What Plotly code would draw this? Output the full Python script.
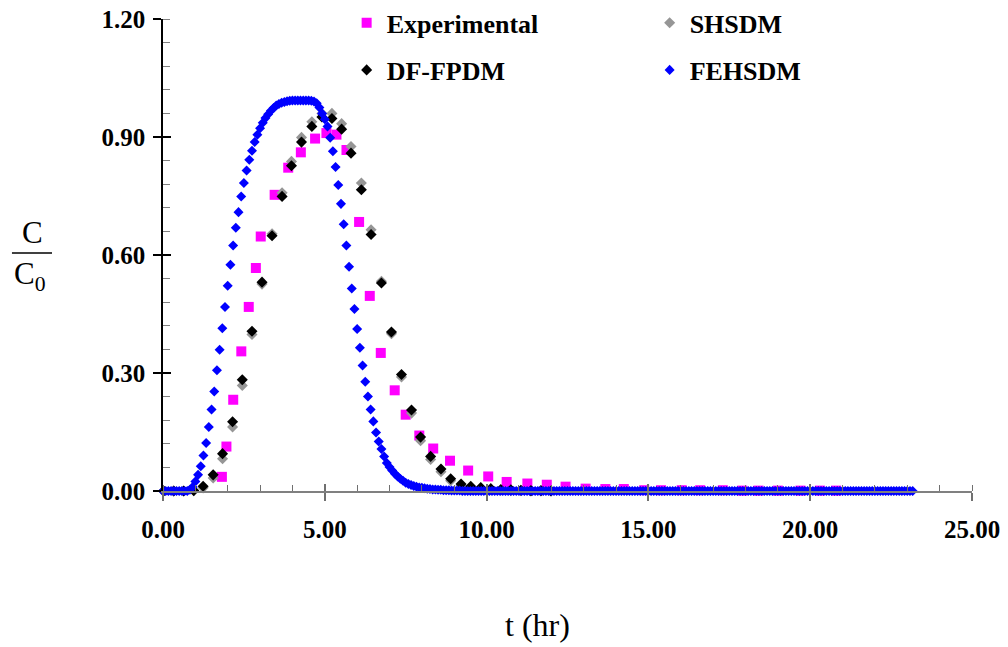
import plotly.graph_objects as go

# ---------------- data ----------------
exp_t = [1.82, 1.96, 2.17, 2.42, 2.65, 2.87, 3.02, 3.45, 3.87, 4.26, 4.70, 5.05, 5.36, 5.67,
         6.06, 6.39, 6.73, 7.16, 7.50, 7.92, 8.35, 8.87, 9.43, 10.05, 10.62, 11.26, 11.86,
         12.44, 13.06, 13.67, 14.24, 14.87, 15.39, 16.03, 16.60, 17.30, 17.90, 18.40, 19.00,
         19.70, 20.30, 20.80]
exp_c = [0.036, 0.113, 0.232, 0.355, 0.468, 0.567, 0.647, 0.753, 0.822, 0.861, 0.896, 0.910,
         0.906, 0.867, 0.684, 0.496, 0.351, 0.256, 0.194, 0.141, 0.108, 0.077, 0.052, 0.037,
         0.023, 0.019, 0.016, 0.011, 0.006, 0.005, 0.005, 0.002, 0.002, 0.002, 0.002, 0.002,
         0.001, 0.001, 0.001, 0.001, 0.001, 0.001]

model_t = [0.02, 0.33, 0.64, 0.95, 1.24, 1.55, 1.84, 2.15, 2.45, 2.75, 3.06, 3.37, 3.68, 3.97,
           4.28, 4.60, 4.91, 5.22, 5.52, 5.81, 6.13, 6.43, 6.75, 7.06, 7.37, 7.68, 7.96, 8.27,
           8.59, 8.89, 9.21, 9.51, 9.82, 10.13, 10.44, 10.75, 11.06, 11.37, 11.68, 11.99]
shsdm_c = [0, 0, 0, 0.001, 0.008, 0.033, 0.082, 0.163, 0.268, 0.398, 0.526, 0.654, 0.758, 0.838,
           0.899, 0.939, 0.960, 0.960, 0.934, 0.876, 0.783, 0.664, 0.533, 0.400, 0.290, 0.198,
           0.128, 0.080, 0.049, 0.026, 0.014, 0.008, 0.005, 0.003, 0.002, 0.001, 0.001, 0, 0, 0]
dffpdm_c = [0, 0, 0, 0.001, 0.012, 0.041, 0.095, 0.176, 0.283, 0.406, 0.531, 0.649, 0.749, 0.827,
            0.887, 0.927, 0.951, 0.947, 0.920, 0.859, 0.766, 0.652, 0.529, 0.404, 0.296, 0.206,
            0.137, 0.088, 0.056, 0.031, 0.018, 0.012, 0.009, 0.006, 0.004, 0.003, 0.002, 0.001,
            0.001, 0]

# FEHSDM sampled every 5 minutes from t = 0
FEHSDM_STEP_HR = 5 / 60
fehsdm_c = [
    0, 0, 0, 0, 0, 0, 0, 0, 0, 0,
    0.003, 0.010, 0.024, 0.041, 0.063, 0.090, 0.122, 0.163, 0.207, 0.253,
    0.307, 0.359, 0.414, 0.468, 0.522, 0.575, 0.624, 0.669, 0.709, 0.749,
    0.783, 0.815, 0.842, 0.865, 0.887, 0.906, 0.922, 0.936, 0.948, 0.958,
    0.967, 0.974, 0.980, 0.984, 0.987, 0.989, 0.991, 0.992, 0.993, 0.993,
    0.993, 0.993, 0.993, 0.993, 0.993, 0.992, 0.990, 0.986, 0.975, 0.960,
    0.945, 0.927, 0.898, 0.864, 0.824, 0.778, 0.730, 0.678, 0.624, 0.570,
    0.515, 0.463, 0.412, 0.364, 0.319, 0.278, 0.240, 0.207, 0.177, 0.149,
    0.126, 0.107, 0.088, 0.071, 0.061, 0.052, 0.044, 0.037, 0.031, 0.026,
    0.021, 0.018, 0.015, 0.013, 0.011, 0.009, 0.008, 0.007, 0.006, 0.005,
    0.004, 0.004, 0.003, 0.003, 0.002, 0.002, 0.002, 0.001, 0.001, 0.001, 0.001,
] + [0.0] * 168
fehsdm_t = [i * FEHSDM_STEP_HR for i in range(len(fehsdm_c))]

x_ticks = [0, 5, 10, 15, 20, 25]
y_ticks = [0.0, 0.3, 0.6, 0.9, 1.2]

# ---------------- figure ----------------
SERIF = "Liberation Serif, Times New Roman, serif"
fig = go.Figure()

fig.add_trace(go.Scatter(x=exp_t, y=exp_c, mode="markers", name="Experimental",
                         marker=dict(symbol="square", size=10, color="#FF00FF", line=dict(width=0)),
                         cliponaxis=False, legend="legend"))
fig.add_trace(go.Scatter(x=model_t, y=shsdm_c, mode="markers", name="SHSDM",
                         marker=dict(symbol="diamond", size=8.5, color="#969696", line=dict(width=0)),
                         cliponaxis=False, legend="legend"))
fig.add_trace(go.Scatter(x=model_t, y=dffpdm_c, mode="markers", name="DF-FPDM",
                         marker=dict(symbol="diamond", size=8.5, color="#000000", line=dict(width=0)),
                         cliponaxis=False, legend="legend2"))
fig.add_trace(go.Scatter(x=fehsdm_t, y=fehsdm_c, mode="markers", name="FEHSDM",
                         marker=dict(symbol="diamond", size=7.7, color="#0000FF", line=dict(width=0)),
                         cliponaxis=False, legend="legend2"))
# empty trace to carry the overlay axes (inner half of the crossing major ticks)
fig.add_trace(go.Scatter(x=[], y=[], xaxis="x2", yaxis="y2", showlegend=False, hoverinfo="skip"))

tick_font = dict(family=SERIF, size=25, color="black", weight="bold")
legend_font = dict(family=SERIF, size=26, color="black", weight="bold")

# the page body adds an 8 px offset, so the figure is 1000x639 with margins shifted accordingly
fig.update_layout(
    width=1000, height=639,
    margin=dict(l=155, r=36, t=11, b=156, autoexpand=False),
    paper_bgcolor="white", plot_bgcolor="white",
    showlegend=True,
    xaxis=dict(range=[0, 25], tickvals=x_ticks, tickformat=".2f", ticks="outside", ticklen=8,
               tickwidth=1.5, tickcolor="#707070", showline=True, linecolor="#808080", linewidth=2,
               showgrid=False, zeroline=False, tickfont=tick_font, ticklabelstandoff=7,
               ticklabeloverflow="allow",
               minor=dict(dtick=1, tick0=0, ticks="inside", ticklen=6, tickwidth=1, tickcolor="#707070")),
    yaxis=dict(range=[0, 1.2], tickvals=y_ticks, tickformat=".2f", ticks="outside", ticklen=8,
               tickwidth=1.5, tickcolor="black", showline=True, linecolor="black", linewidth=1.5,
               showgrid=False, zeroline=False, tickfont=tick_font, ticklabelstandoff=3,
               ticklabeloverflow="allow",
               minor=dict(dtick=0.06, tick0=0, ticks="inside", ticklen=7, tickwidth=1, tickcolor="#808080")),
    xaxis2=dict(range=[0, 25], overlaying="x", anchor="y", side="bottom", tickvals=x_ticks,
                ticks="inside", ticklen=7, tickwidth=1.5, tickcolor="#707070", showticklabels=False,
                showline=False, showgrid=False, zeroline=False),
    yaxis2=dict(range=[0, 1.2], overlaying="y", anchor="x", side="left", tickvals=y_ticks,
                ticks="inside", ticklen=8, tickwidth=1.5, tickcolor="black", showticklabels=False,
                showline=False, showgrid=False, zeroline=False),
    legend=dict(orientation="h", x=0.227, xanchor="left", y=0.992, yanchor="middle",
                entrywidth=258, bgcolor="rgba(0,0,0,0)", font=legend_font, itemclick=False),
    legend2=dict(orientation="h", x=0.227, xanchor="left", y=0.892, yanchor="middle",
                 entrywidth=258, bgcolor="rgba(0,0,0,0)", font=legend_font, itemclick=False),
)

# y-axis title as a fraction C / C0
fig.add_annotation(text="C", xref="paper", yref="paper", x=-0.1607, y=0.5487,
                   showarrow=False, xanchor="center", yanchor="middle",
                   font=dict(family=SERIF, size=31, color="black"))
fig.add_annotation(text="C<sub>0</sub>", xref="paper", yref="paper", x=-0.1644, y=0.455,
                   showarrow=False, xanchor="center", yanchor="middle",
                   font=dict(family=SERIF, size=31, color="black"))
fig.add_shape(type="line", xref="paper", yref="paper", x0=-0.1867, x1=-0.1372, y0=0.5042, y1=0.5042,
              line=dict(color="black", width=1.5))

# x-axis title
fig.add_annotation(text="t (hr)",
                   xref="paper", yref="paper", x=0.4623, y=-0.2839, showarrow=False,
                   xanchor="center", yanchor="middle",
                   font=dict(family=SERIF, size=32, color="black"))

fig.write_html("out.html")
